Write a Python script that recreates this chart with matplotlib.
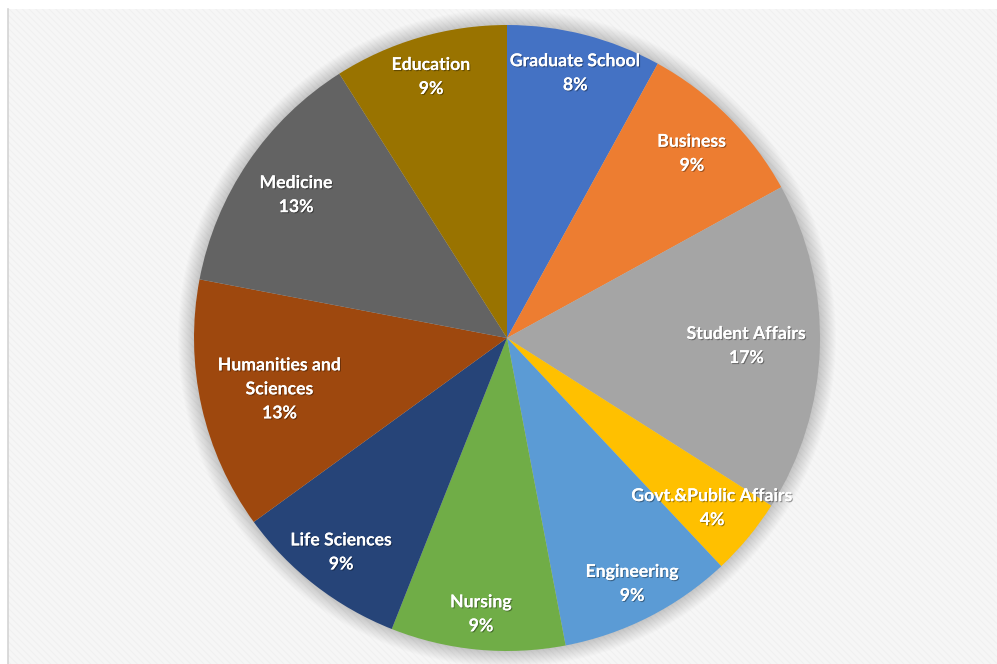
import matplotlib
matplotlib.use("Agg")
import matplotlib.pyplot as plt
import matplotlib.patheffects as pe
from matplotlib.patches import Rectangle, Circle
import numpy as np

# Share of the total by unit
categories = ["Graduate School", "Business", "Student Affairs", "Govt.&Public Affairs",
              "Engineering", "Nursing", "Life Sciences", "Humanities and\nSciences",
              "Medicine", "Education"]
shares = [8, 9, 17, 4, 9, 9, 9, 13, 13, 9]
colors = ["#4472C4", "#ED7D31", "#A5A5A5", "#FFC000", "#5B9BD5",
          "#70AD47", "#264478", "#9E480E", "#636363", "#997300"]
# radial position of each data label, as a fraction of the radius
label_dist = [0.875, 0.835, 0.765, 0.85, 0.88, 0.885, 0.865, 0.745, 0.815, 0.87]

W, H = 997, 664
plt.rcParams["hatch.linewidth"] = 0.6
fig = plt.figure(figsize=(W / 100, H / 100), dpi=100)
ax = fig.add_axes([0, 0, 1, 1])
ax.set_xlim(0, W)
ax.set_ylim(0, H)
ax.axis("off")

# chart area with fine diagonal texture
ax.add_patch(Rectangle((8, 0), W - 8, H - 9, facecolor="#f6f6f6",
                       edgecolor="#efefef", hatch="\\\\\\\\\\", linewidth=0, zorder=0))
ax.plot([8, 8], [0, H - 9], color="#d4d4d4", lw=1.2, zorder=1)

cx, cy, R = 507, H - 338, 313

# soft glow around the pie
for k in range(16, 0, -1):
    ax.add_patch(Circle((cx, cy), R + k, facecolor="black", edgecolor="none",
                        alpha=0.012, zorder=2))

wedges, _ = ax.pie(shares, colors=colors, startangle=90, counterclock=False,
                   center=(cx, cy), radius=R, frame=False,
                   wedgeprops=dict(linewidth=0, zorder=3))
ax.set_xlim(0, W)
ax.set_ylim(0, H)
ax.set_aspect("equal")

for w, name, val, d in zip(wedges, categories, shares, label_dist):
    ang = np.deg2rad((w.theta1 + w.theta2) / 2)
    x = cx + R * d * np.cos(ang)
    y = cy + R * d * np.sin(ang)
    ax.text(x, y, f"{name}\n{val}%", ha="center", va="center", color="white",
            fontsize=12.7, fontweight="bold", family=["Lato", "DejaVu Sans"],
            linespacing=1.5, zorder=5,
            path_effects=[pe.withSimplePatchShadow(offset=(0.8, -0.8),
                                                   shadow_rgbFace="black", alpha=0.35),
                          pe.Normal()])

fig.savefig("out.png", dpi=100)
